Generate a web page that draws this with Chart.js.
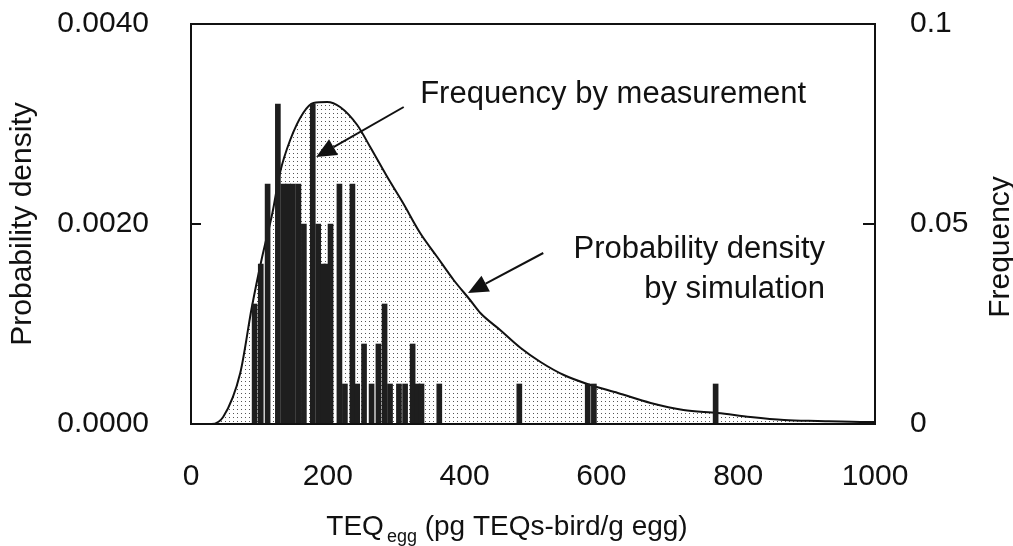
<!DOCTYPE html>
<html>
<head>
<meta charset="utf-8">
<script src="https://cdn.jsdelivr.net/npm/chart.js@4"></script>
<style>
  body { margin: 0; background: #fff; }
  canvas { display: block; }
</style>
</head>
<body>
<canvas id="chart" width="1013" height="546"></canvas>
<script>
// simulated probability density curve (x = TEQ egg, y = density)
let densityX = [0, 30, 47, 72, 89, 104, 119, 130, 145, 164, 179, 199, 218, 243, 262, 287, 310, 335, 360, 384, 408, 423, 452, 482, 511, 545, 584, 624, 672, 720, 770, 818, 867, 916, 989, 1000];
let densityY = [0, 0, 0.00007, 0.00051, 0.00117, 0.00167, 0.00211, 0.00251, 0.00284, 0.00311, 0.00321, 0.00322, 0.00317, 0.00299, 0.00277, 0.00247, 0.00221, 0.00191, 0.00167, 0.00144, 0.00124, 0.00111, 0.00094, 0.00076, 0.00062, 0.00049, 0.00039, 0.00031, 0.00021, 0.00014, 0.00011, 0.00007, 0.00004, 0.00003, 0.00002, 0.00002];

// measured frequencies
let barX = [93, 102, 112, 127, 135, 142, 149, 157, 165, 178, 186, 193, 198, 204, 217, 225, 236, 243, 253, 264, 274, 283, 291, 304, 313, 324, 331, 337, 363, 480, 580, 589, 767];
let barFreq = [0.03, 0.04, 0.06, 0.08, 0.06, 0.06, 0.06, 0.06, 0.05, 0.08, 0.05, 0.04, 0.04, 0.05, 0.06, 0.01, 0.06, 0.01, 0.02, 0.01, 0.02, 0.03, 0.01, 0.01, 0.01, 0.02, 0.01, 0.01, 0.01, 0.01, 0.01, 0.01, 0.01];

let xTicks = [0, 200, 400, 600, 800, 1000];
let densityTicks = [0, 0.002, 0.004];
let freqTicks = [0, 0.05, 0.1];

// callouts, anchored in data units [x, density]
let noteMeasure = { text: ["Frequency by measurement"], at: [335, 0.00321], tail: [311, 0.00317], tip: [183, 0.00267], align: "left" };
let noteSimul = { text: ["Probability density", "by simulation"], at: [927, 0.00166], tail: [515, 0.00171], tip: [405, 0.00131], align: "right" };

let FONT = "'Liberation Sans', Arial, sans-serif";
let INK = "#111";

function dotPattern() {
	let c = document.createElement("canvas");
	c.width = 4;
	c.height = 4;
	let g = c.getContext("2d");
	g.fillStyle = "#fff";
	g.fillRect(0, 0, 4, 4);
	g.fillStyle = "#555";
	g.fillRect(1, 1, 1, 1);
	return g.createPattern(c, "repeat");
}

function drawArrow(ctx, x0, y0, x1, y1) {
	let ang = Math.atan2(y1 - y0, x1 - x0);
	let len = 20, half = 9;
	let bx = x1 - len * Math.cos(ang), by = y1 - len * Math.sin(ang);
	ctx.beginPath();
	ctx.moveTo(x0, y0);
	ctx.lineTo(bx, by);
	ctx.lineWidth = 2;
	ctx.stroke();
	ctx.beginPath();
	ctx.moveTo(x1, y1);
	ctx.lineTo(bx + half * Math.sin(ang), by - half * Math.cos(ang));
	ctx.lineTo(bx - half * Math.sin(ang), by + half * Math.cos(ang));
	ctx.closePath();
	ctx.fill();
}

// vertical scales add tick padding to their top/bottom overflow; drop it
function fitWidth(w) {
	return function (s) {
		s.width = w;
		s.paddingTop = 0;
		s.paddingBottom = 0;
	};
}

let decorPlugin = {
	id: "decor",
	afterDraw(chart) {
		let ctx = chart.ctx;
		let area = chart.chartArea;
		let sx = chart.scales.x, sd = chart.scales.yD, sf = chart.scales.yF;
		ctx.save();
		ctx.strokeStyle = INK;
		ctx.fillStyle = INK;

		// frame
		ctx.lineWidth = 2;
		ctx.strokeRect(area.left, area.top, area.right - area.left, area.bottom - area.top);

		// inner tick marks
		let yMid = sd.getPixelForValue(densityTicks[1]);
		ctx.beginPath();
		ctx.moveTo(area.left, yMid);
		ctx.lineTo(area.left + 10, yMid);
		let yMidF = sf.getPixelForValue(freqTicks[1]);
		ctx.moveTo(area.right, yMidF);
		ctx.lineTo(area.right - 12, yMidF);
		ctx.stroke();

		// axis titles
		ctx.font = "30px " + FONT;
		ctx.textAlign = "center";
		ctx.textBaseline = "middle";
		ctx.save();
		ctx.translate(23, (area.top + area.bottom) / 2);
		ctx.rotate(-Math.PI / 2);
		ctx.fillText("Probability density", 0, 0);
		ctx.restore();
		ctx.save();
		ctx.translate(1001, 247);
		ctx.rotate(-Math.PI / 2);
		ctx.fillText("Frequency", 0, 0);
		ctx.restore();

		// x title with subscript
		ctx.textBaseline = "alphabetic";
		ctx.textAlign = "left";
		let big = "28px " + FONT, small = "18px " + FONT;
		ctx.font = big;
		let w1 = ctx.measureText("TEQ").width;
		let w3 = ctx.measureText(" (pg TEQs-bird/g egg)").width;
		ctx.font = small;
		let w2 = ctx.measureText("egg").width + 3;
		let x0 = 507 - (w1 + w2 + w3) / 2;
		let base = 535;
		ctx.font = big;
		ctx.fillText("TEQ", x0, base);
		ctx.font = small;
		ctx.fillText("egg", x0 + w1 + 3, base + 7);
		ctx.font = big;
		ctx.fillText(" (pg TEQs-bird/g egg)", x0 + w1 + w2, base);

		// callouts
		ctx.font = "31px " + FONT;
		[noteMeasure, noteSimul].forEach(function (n) {
			let tx = sx.getPixelForValue(n.at[0]);
			let ty = sd.getPixelForValue(n.at[1]);
			ctx.textAlign = n.align;
			n.text.forEach(function (line, i) {
				ctx.fillText(line, tx, ty + i * 40);
			});
			drawArrow(ctx,
				sx.getPixelForValue(n.tail[0]), sd.getPixelForValue(n.tail[1]),
				sx.getPixelForValue(n.tip[0]), sd.getPixelForValue(n.tip[1]));
		});
		ctx.restore();
	}
};

let ctx = document.getElementById("chart").getContext("2d");

let densityPoints = densityX.map(function (x, i) { return { x: x, y: densityY[i] }; });
let barPoints = barX.map(function (x, i) { return { x: x, y: barFreq[i] }; });

let chart = new Chart(ctx, {
	type: "bar",
	data: {
		datasets: [{
			type: "bar",
			label: "Frequency by measurement",
			data: barPoints,
			yAxisID: "yF",
			backgroundColor: "#1e1e1e",
			borderWidth: 0,
			barThickness: 5,
			order: 1
		}, {
			type: "line",
			label: "Probability density by simulation",
			data: densityPoints,
			yAxisID: "yD",
			borderColor: INK,
			borderWidth: 2,
			backgroundColor: dotPattern(),
			fill: "origin",
			pointRadius: 0,
			cubicInterpolationMode: "monotone",
			order: 2
		}]
	},
	options: {
		responsive: false,
		animation: false,
		layout: { padding: { top: 24, left: 0, right: 0, bottom: 0 } },
		plugins: {
			legend: { display: false },
			tooltip: { enabled: false }
		},
		scales: {
			x: {
				type: "linear",
				offset: false,
				min: 0,
				max: 1000,
				afterBuildTicks: function (s) { s.ticks = xTicks.map(function (v) { return { value: v }; }); },
				ticks: { font: { size: 30, family: FONT }, color: INK, padding: 27, maxRotation: 0, callback: function (v) { return String(v); } },
				grid: { display: false, offset: false },
				border: { display: false },
				afterFit: function (s) { s.height = 122; }
			},
			yD: {
				position: "left",
				min: 0,
				max: 0.004,
				afterBuildTicks: function (s) { s.ticks = densityTicks.map(function (v) { return { value: v }; }); },
				ticks: { font: { size: 30, family: FONT }, color: INK, padding: 34, callback: function (v) { return v.toFixed(4); } },
				grid: { display: false },
				border: { display: false },
				afterFit: fitWidth(191)
			},
			yF: {
				position: "right",
				min: 0,
				max: 0.1,
				afterBuildTicks: function (s) { s.ticks = freqTicks.map(function (v) { return { value: v }; }); },
				ticks: { font: { size: 30, family: FONT }, color: INK, padding: 27, callback: function (v) { return String(+v.toFixed(2)); } },
				grid: { display: false },
				border: { display: false },
				afterFit: fitWidth(138)
			}
		}
	},
	plugins: [decorPlugin]
});
</script>
</body>
</html>
